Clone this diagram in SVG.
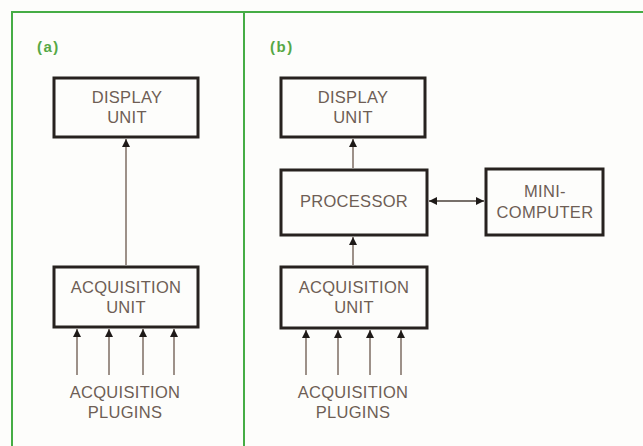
<svg xmlns="http://www.w3.org/2000/svg" width="643" height="446" viewBox="0 0 643 446">
<defs>
<marker id="ah" viewBox="0 0 10 10" refX="10" refY="5" markerWidth="8" markerHeight="9" markerUnits="userSpaceOnUse" orient="auto-start-reverse">
<path d="M0,0 L10,5 L0,10 z" fill="#1e1a18"/>
</marker>
<style>
.frame{stroke:#45ad45;stroke-width:2;fill:none}
.box{fill:#fdfdfb;stroke:#27221f;stroke-width:3}
.t{font-family:"Liberation Sans",Arial,sans-serif;font-size:16.5px;fill:#6e5e55;text-anchor:middle;letter-spacing:0.3px}
.lbl{font-family:"Liberation Sans",Arial,sans-serif;font-size:15px;font-weight:bold;fill:#56a845;letter-spacing:1.5px}
.c{stroke:#7d6d63;stroke-width:1.5;fill:none;marker-end:url(#ah)}
.c2{stroke:#4a403a;stroke-width:1.5;fill:none;marker-end:url(#ah);marker-start:url(#ah)}
</style>
</defs>
<rect width="643" height="446" fill="#fdfdfb"/>
<g id="frame">
<path class="frame" d="M12,446 V12 H643"/>
<path class="frame" d="M244,12 V446"/>
<text class="lbl" x="37" y="52">(a)</text>
<text class="lbl" x="270" y="52">(b)</text>
</g>
<g id="a-display">
<rect class="box" x="54" y="78" width="144" height="59"/>
<text class="t" x="127" y="103">DISPLAY</text>
<text class="t" x="127" y="123">UNIT</text>
</g>
<g id="a-acq">
<rect class="box" x="54" y="267" width="144" height="60"/>
<text class="t" x="126" y="293">ACQUISITION</text>
<text class="t" x="126" y="313">UNIT</text>
</g>
<g id="a-plugins">
<text class="t" x="125" y="398">ACQUISITION</text>
<text class="t" x="125" y="418">PLUGINS</text>
</g>
<g id="b-display">
<rect class="box" x="281" y="78" width="144" height="59"/>
<text class="t" x="353" y="103">DISPLAY</text>
<text class="t" x="353" y="123">UNIT</text>
</g>
<g id="b-processor">
<rect class="box" x="281" y="170" width="146" height="65"/>
<text class="t" x="354" y="207">PROCESSOR</text>
</g>
<g id="b-mini">
<rect class="box" x="486" y="169" width="117" height="66"/>
<text class="t" x="545" y="197">MINI-</text>
<text class="t" x="545" y="218">COMPUTER</text>
</g>
<g id="b-acq">
<rect class="box" x="281" y="267" width="146" height="61"/>
<text class="t" x="354" y="293">ACQUISITION</text>
<text class="t" x="354" y="313">UNIT</text>
</g>
<g id="b-plugins">
<text class="t" x="353" y="398">ACQUISITION</text>
<text class="t" x="353" y="418">PLUGINS</text>
</g>
<g id="connectors">
<line class="c" x1="126" y1="265" x2="126" y2="139"/>
<line class="c" x1="77" y1="375" x2="77" y2="329"/>
<line class="c" x1="109" y1="375" x2="109" y2="329"/>
<line class="c" x1="143" y1="375" x2="143" y2="329"/>
<line class="c" x1="174" y1="375" x2="174" y2="329"/>
<line class="c" x1="353" y1="168" x2="353" y2="139"/>
<line class="c" x1="353" y1="265" x2="353" y2="237"/>
<line class="c2" x1="429" y1="201" x2="484" y2="201"/>
<line class="c" x1="306" y1="375" x2="306" y2="330"/>
<line class="c" x1="338" y1="375" x2="338" y2="330"/>
<line class="c" x1="370" y1="375" x2="370" y2="330"/>
<line class="c" x1="401" y1="375" x2="401" y2="330"/>
</g>
</svg>
